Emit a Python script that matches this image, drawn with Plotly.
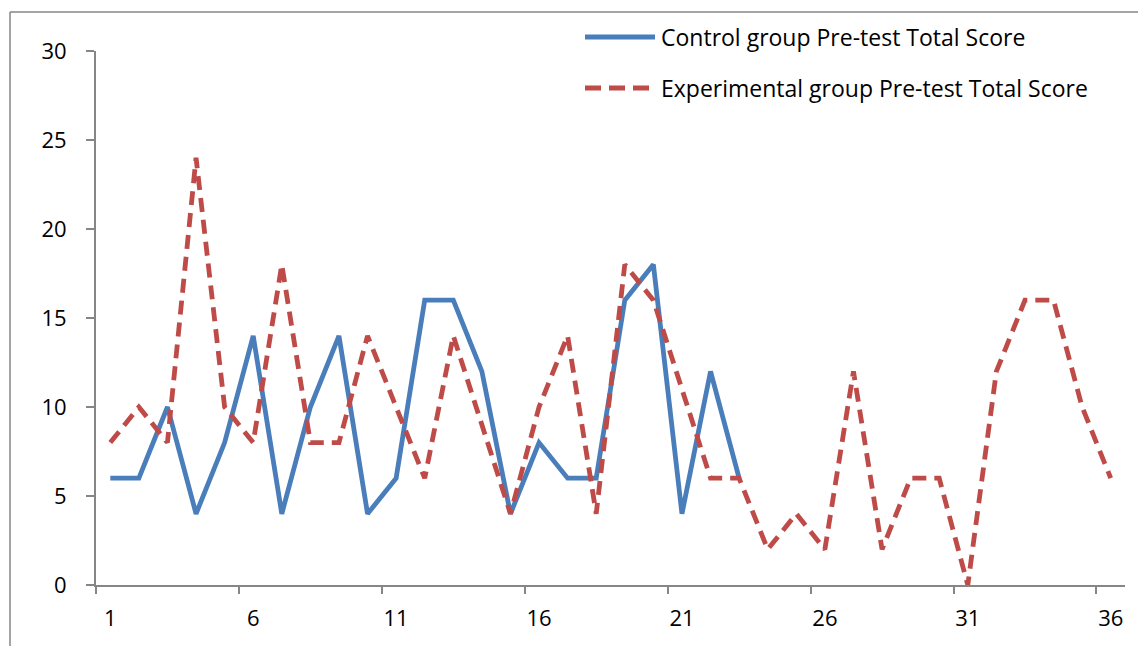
import plotly.graph_objects as go

categories = list(range(1, 37))
control = [6, 6, 10, 4, 8, 14, 4, 10, 14, 4, 6, 16, 16, 12, 4, 8, 6, 6, 16, 18, 4, 12, 6]
experimental = [8, 10, 8, 24, 10, 8, 18, 8, 8, 14, 10, 6, 14, 9, 4, 10, 14, 4, 18, 16, 11, 6, 6,
                2, 4, 2, 12, 2, 6, 6, 0, 12, 16, 16, 10, 6]
x_tick_labels = ["1", "6", "11", "16", "21", "26", "31", "36"]
y_ticks = [0, 5, 10, 15, 20, 25, 30]
series_names = ["Control group Pre-test Total Score", "Experimental group Pre-test Total Score"]

BLUE = "#4A7EBB"
RED = "#BE4B48"
AXIS = "#868686"
FONT = "Open Sans"

W, H = 1138, 646
L, R, T, B = 96, 13, 51, 61
pw, ph = W - L - R, H - T - B

def px(x):
    return (x - L) / pw

def py(y):
    return (H - B - y) / ph

fig = go.Figure()
fig.add_trace(go.Scatter(x=categories[:len(control)], y=control, mode="lines",
                         name=series_names[0], line=dict(color=BLUE, width=4.8),
                         showlegend=False))
fig.add_trace(go.Scatter(x=categories[:len(experimental)], y=experimental, mode="lines",
                         name=series_names[1], line=dict(color=RED, width=4.8, dash="14px,8px"),
                         showlegend=False))

shapes = [
    # outer chart border (left and top)
    dict(type="line", xref="paper", yref="paper", x0=px(10), x1=px(1140), y0=py(12), y1=py(12),
         line=dict(color=AXIS, width=1.5)),
    dict(type="line", xref="paper", yref="paper", x0=px(10), x1=px(10), y0=py(12), y1=py(650),
         line=dict(color=AXIS, width=1.5)),
    # custom legend samples
    dict(type="line", xref="paper", yref="paper", x0=px(585), x1=px(655), y0=py(37), y1=py(37),
         line=dict(color=BLUE, width=5)),
    dict(type="line", xref="paper", yref="paper", x0=px(585), x1=px(656), y0=py(88), y1=py(88),
         line=dict(color=RED, width=5, dash="16px,8px")),
]
annotations = [
    dict(xref="paper", yref="paper", x=px(659), y=py(37), text=series_names[0], showarrow=False,
         xanchor="left", yanchor="middle", font=dict(family=FONT, size=23, color="#000")),
    dict(xref="paper", yref="paper", x=px(659), y=py(88), text=series_names[1], showarrow=False,
         xanchor="left", yanchor="middle", font=dict(family=FONT, size=23, color="#000")),
]

fig.update_layout(
    width=W, height=H,
    margin=dict(l=L, r=R, t=T, b=B, pad=0),
    paper_bgcolor="white", plot_bgcolor="white",
    font=dict(family=FONT, size=22, color="#000"),
    shapes=shapes, annotations=annotations,
    showlegend=False,
    xaxis=dict(range=[0.5, 36.5], tickmode="array",
               tickvals=[int(v) for v in x_tick_labels], ticktext=x_tick_labels,
               ticks="", showgrid=False, zeroline=False,
               showline=True, linecolor=AXIS, linewidth=2,
               ticklabelstandoff=13,
               minor=dict(tickmode="array", tickvals=[0.5 + 5 * k for k in range(8)],
                          ticks="outside", ticklen=7, tickwidth=1.5, tickcolor=AXIS, showgrid=False)),
    yaxis=dict(range=[0, 30], tickmode="array", tickvals=y_ticks,
               ticks="outside", ticklen=8, tickwidth=1.5, tickcolor=AXIS,
               showgrid=False, zeroline=False, showline=True, linecolor=AXIS, linewidth=2,
               ticklabelstandoff=15),
)

fig.write_html("out.html")
